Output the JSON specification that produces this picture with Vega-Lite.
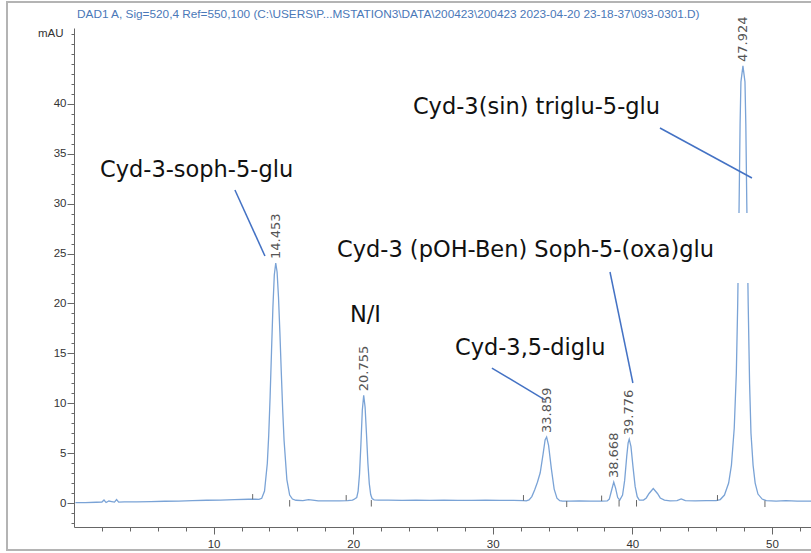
{
  "$schema": "https://vega.github.io/schema/vega-lite/v6.json",
  "width": 737,
  "height": 499,
  "autosize": "none",
  "padding": {"left": 74, "top": 28, "right": 0, "bottom": 26},
  "background": "white",
  "config": {"view": {"stroke": null}},
  "title": {
    "text": "DAD1 A, Sig=520,4 Ref=550,100 (C:\\USERS\\P...MSTATION3\\DATA\\200423\\200423 2023-04-20 23-18-37\\093-0301.D)",
    "anchor": "start", "frame": "group", "font": "Liberation Sans", "fontSize": 11.8,
    "fontWeight": "normal", "color": "#4a78b8", "baseline": "bottom", "offset": -31, "dx": 3
  },
  "resolve": {"axis": {"x": "independent", "y": "independent"}},
  "datasets": {
    "trace": [
      {"t":0.1,"v":0.05},{"t":0.8,"v":0.05},{"t":1.6,"v":0.08},{"t":2.0,"v":0.1},{"t":2.15,"v":0.3},{"t":2.3,"v":0.05},
      {"t":2.5,"v":0.2},{"t":2.7,"v":0.15},{"t":2.9,"v":0.1},{"t":3.05,"v":0.35},{"t":3.2,"v":0.1},{"t":3.6,"v":0.12},
      {"t":4.5,"v":0.12},{"t":5.5,"v":0.15},{"t":6.5,"v":0.18},{"t":7.5,"v":0.2},{"t":8.5,"v":0.25},{"t":9.5,"v":0.28},
      {"t":10.5,"v":0.3},{"t":11.5,"v":0.35},{"t":12.5,"v":0.38},{"t":13.0,"v":0.38},
      {"t":13.25,"v":0.37},{"t":13.45,"v":0.48},{"t":13.65,"v":1.2},{"t":13.85,"v":3.99},{"t":13.95,"v":6.8},
      {"t":14.05,"v":10.66},{"t":14.15,"v":15.19},{"t":14.25,"v":19.6},{"t":14.35,"v":22.85},{"t":14.453,"v":24.05},
      {"t":14.55,"v":23.15},{"t":14.65,"v":20.65},{"t":14.75,"v":17.1},{"t":14.85,"v":13.13},{"t":14.95,"v":9.38},
      {"t":15.05,"v":6.26},{"t":15.25,"v":2.35},{"t":15.45,"v":0.8},{"t":15.65,"v":0.4},{"t":15.9,"v":0.28},
      {"t":16.4,"v":0.25},{"t":16.8,"v":0.35},{"t":17.1,"v":0.3},{"t":17.5,"v":0.22},{"t":18.2,"v":0.22},
      {"t":19.0,"v":0.22},{"t":19.6,"v":0.25},
      {"t":19.95,"v":0.3},{"t":20.05,"v":0.37},{"t":20.155,"v":0.45},{"t":20.255,"v":0.55},{"t":20.355,"v":1.2},
      {"t":20.455,"v":2.9},{"t":20.555,"v":5.9},{"t":20.655,"v":9.3},{"t":20.755,"v":10.8},{"t":20.855,"v":9.6},
      {"t":20.955,"v":6.9},{"t":21.055,"v":4.0},{"t":21.155,"v":1.95},{"t":21.255,"v":0.85},{"t":21.355,"v":0.45},
      {"t":21.5,"v":0.32},{"t":21.8,"v":0.3},{"t":22.5,"v":0.3},{"t":23.5,"v":0.27},{"t":24.5,"v":0.3},
      {"t":25.5,"v":0.27},{"t":26.5,"v":0.3},{"t":27.5,"v":0.27},{"t":28.5,"v":0.27},{"t":29.5,"v":0.3},
      {"t":30.5,"v":0.27},{"t":31.5,"v":0.27},{"t":32.2,"v":0.25},
      {"t":32.4,"v":0.22},{"t":32.6,"v":0.32},{"t":32.8,"v":0.65},{"t":33.0,"v":1.31},{"t":33.2,"v":2.09},
      {"t":33.4,"v":3.03},{"t":33.6,"v":4.86},{"t":33.75,"v":6.33},{"t":33.859,"v":6.62},{"t":34.0,"v":5.78},
      {"t":34.2,"v":3.42},{"t":34.4,"v":1.4},{"t":34.6,"v":0.49},{"t":34.8,"v":0.24},{"t":35.0,"v":0.2},
      {"t":35.5,"v":0.2},{"t":36.2,"v":0.22},{"t":37.0,"v":0.2},{"t":37.8,"v":0.2},
      {"t":38.2,"v":0.21},{"t":38.35,"v":0.4},{"t":38.5,"v":1.21},{"t":38.668,"v":2.1},{"t":38.8,"v":1.49},
      {"t":38.95,"v":0.55},{"t":39.1,"v":0.3},
      {"t":39.3,"v":0.8},{"t":39.45,"v":2.27},{"t":39.6,"v":4.7},{"t":39.7,"v":6.04},{"t":39.776,"v":6.4},
      {"t":39.9,"v":5.68},{"t":40.05,"v":3.6},{"t":40.2,"v":1.67},{"t":40.35,"v":0.64},{"t":40.5,"v":0.3},
      {"t":40.8,"v":0.3},{"t":41.0,"v":0.51},{"t":41.2,"v":0.96},{"t":41.5,"v":1.45},{"t":41.8,"v":0.96},
      {"t":42.0,"v":0.51},{"t":42.3,"v":0.3},{"t":42.7,"v":0.22},{"t":43.2,"v":0.25},{"t":43.5,"v":0.42},
      {"t":43.8,"v":0.25},{"t":44.5,"v":0.22},{"t":45.3,"v":0.25},{"t":46.0,"v":0.25},
      {"t":46.3,"v":0.35},{"t":46.6,"v":0.8},{"t":46.9,"v":2.0},{"t":47.1,"v":3.8},{"t":47.3,"v":7.5},
      {"t":47.45,"v":13},{"t":47.55,"v":20},{"t":47.65,"v":30},{"t":47.72,"v":38},{"t":47.78,"v":42.2},
      {"t":47.924,"v":43.8},{"t":48.07,"v":42.2},{"t":48.13,"v":38},{"t":48.2,"v":30},{"t":48.3,"v":20},
      {"t":48.4,"v":12},{"t":48.5,"v":7.0},{"t":48.65,"v":3.8},{"t":48.8,"v":2.0},{"t":49.0,"v":0.9},
      {"t":49.3,"v":0.4},{"t":49.6,"v":0.25},{"t":50.3,"v":0.2},{"t":51.0,"v":0.25},{"t":51.8,"v":0.2},{"t":52.8,"v":0.2}
    ],
    "rtlabels": [
      {"rt":"14.453","t":14.453,"v":24.05},
      {"rt":"20.755","t":20.755,"v":10.8},
      {"rt":"33.859","t":33.859,"v":6.62},
      {"rt":"38.668","t":38.668,"v":2.1},
      {"rt":"39.776","t":39.776,"v":6.4},
      {"rt":"47.924","t":47.924,"v":43.8}
    ],
    "ann": [
      {"label":"Cyd-3-soph-5-glu","t":1.86,"v":32.67},
      {"label":"N/I","t":19.77,"v":18.14},
      {"label":"Cyd-3,5-diglu","t":27.29,"v":14.83},
      {"label":"Cyd-3 (pOH-Ben) Soph-5-(oxa)glu","t":18.84,"v":24.65},
      {"label":"Cyd-3(sin) triglu-5-glu","t":24.28,"v":38.98}
    ],
    "connectors": [
      {"t":11.53,"v":31.37,"t2":13.68,"v2":24.75},
      {"t":29.94,"v":13.53,"t2":33.74,"v2":10.33},
      {"t":38.4,"v":23.15,"t2":40.04,"v2":12.03},
      {"t":41.98,"v":37.58,"t2":48.57,"v2":32.57}
    ],
    "box": [{"t":18.34,"v":29.06,"t2":48.42,"v2":22.05}],
    "frame": [{"t":-4.8,"v":50.2,"t2":60,"v2":-4.7}],
    "integ": [
      {"t":12.8,"v":0.38,"v2":0.9},{"t":19.5,"v":0.25,"v2":0.8},{"t":32.2,"v":0.25,"v2":0.8},
      {"t":37.8,"v":0.2,"v2":0.75},{"t":46.1,"v":0.25,"v2":0.8},
      {"t":15.45,"v":0.3,"v2":-0.35},{"t":21.3,"v":0.3,"v2":-0.35},{"t":35.3,"v":0.2,"v2":-0.4},
      {"t":39.05,"v":0.3,"v2":-0.35},{"t":40.3,"v":0.3,"v2":-0.35},{"t":49.5,"v":0.25,"v2":-0.4}
    ]
  },
  "layer": [
    {
      "data": {"name": "frame"},
      "mark": {"type": "rect", "fill": null, "stroke": "#b4b4b4", "strokeWidth": 2},
      "encoding": {
        "x": {"field": "t", "type": "quantitative", "scale": {"domain": [0, 52.8], "nice": false, "zero": false},
          "axis": {
            "orient": "bottom", "title": null,
            "values": [10, 20, 30, 40, 50],
            "tickSize": 7, "labelPadding": 4, "labelFont": "Liberation Sans", "labelFontSize": 11.5, "labelColor": "#333",
            "domainColor": "#666", "tickColor": "#666", "grid": false, "labelFlush": false, "labelOverlap": false
          }},
        "x2": {"field": "t2"},
        "y": {"field": "v", "type": "quantitative", "scale": {"domain": [-2.4, 47.6], "nice": false, "zero": false},
          "axis": {
            "orient": "left",
            "title": "mAU", "titleAngle": 0, "titleX": -11, "titleY": 5, "titleAlign": "right", "titleBaseline": "middle",
            "titleFont": "Liberation Sans", "titleFontSize": 11.5, "titleFontWeight": "normal", "titleColor": "#333",
            "values": [0, 5, 10, 15, 20, 25, 30, 35, 40],
            "tickSize": 7, "labelPadding": 1, "labelFont": "Liberation Sans", "labelFontSize": 11.5, "labelColor": "#333",
            "domainColor": "#666", "tickColor": "#666", "grid": false, "labelOverlap": false
          }},
        "y2": {"field": "v2"}
      }
    },
    {
      "data": {"name": "trace"},
      "mark": {"type": "line", "color": "#7aa3d6", "strokeWidth": 1.3, "clip": true},
      "encoding": {
        "x": {"field": "t", "type": "quantitative",
          "axis": {"orient": "bottom", "title": null, "labels": false, "tickSize": 4, "domain": false, "grid": false, "tickColor": "#666",
            "values": [2,4,6,8,12,14,16,18,22,24,26,28,32,34,36,38,42,44,46,48,52]}},
        "y": {"field": "v", "type": "quantitative",
          "axis": {"orient": "left", "title": null, "labels": false, "tickSize": 3, "domain": false, "grid": false, "tickColor": "#666",
            "values": [-2,-1,1,2,3,4,6,7,8,9,11,12,13,14,16,17,18,19,21,22,23,24,26,27,28,29,31,32,33,34,36,37,38,39,41,42,43,44,45,46,47]}}
      }
    },
    {
      "data": {"name": "integ"},
      "mark": {"type": "rule", "color": "#666", "strokeWidth": 1},
      "encoding": {
        "x": {"field": "t", "type": "quantitative", "axis": null},
        "y": {"field": "v", "type": "quantitative", "axis": null},
        "y2": {"field": "v2"}
      }
    },
    {
      "data": {"name": "box"},
      "mark": {"type": "rect", "fill": "white", "stroke": null},
      "encoding": {
        "x": {"field": "t", "type": "quantitative", "axis": null},
        "x2": {"field": "t2"},
        "y": {"field": "v", "type": "quantitative", "axis": null},
        "y2": {"field": "v2"}
      }
    },
    {
      "data": {"name": "connectors"},
      "mark": {"type": "rule", "color": "#4472c4", "strokeWidth": 1.5},
      "encoding": {
        "x": {"field": "t", "type": "quantitative", "axis": null},
        "x2": {"field": "t2"},
        "y": {"field": "v", "type": "quantitative", "axis": null},
        "y2": {"field": "v2"}
      }
    },
    {
      "data": {"name": "ann"},
      "mark": {"type": "text", "font": "DejaVu Sans", "fontSize": 22.5, "color": "#111", "align": "left", "baseline": "alphabetic"},
      "encoding": {
        "x": {"field": "t", "type": "quantitative", "axis": null},
        "y": {"field": "v", "type": "quantitative", "axis": null},
        "text": {"field": "label"}
      }
    },
    {
      "data": {"name": "rtlabels"},
      "mark": {"type": "text", "font": "DejaVu Sans", "fontSize": 13, "color": "#555", "angle": 270, "align": "left", "baseline": "middle", "dx": 4},
      "encoding": {
        "x": {"field": "t", "type": "quantitative", "axis": null},
        "y": {"field": "v", "type": "quantitative", "axis": null},
        "text": {"field": "rt"}
      }
    }
  ]
}
